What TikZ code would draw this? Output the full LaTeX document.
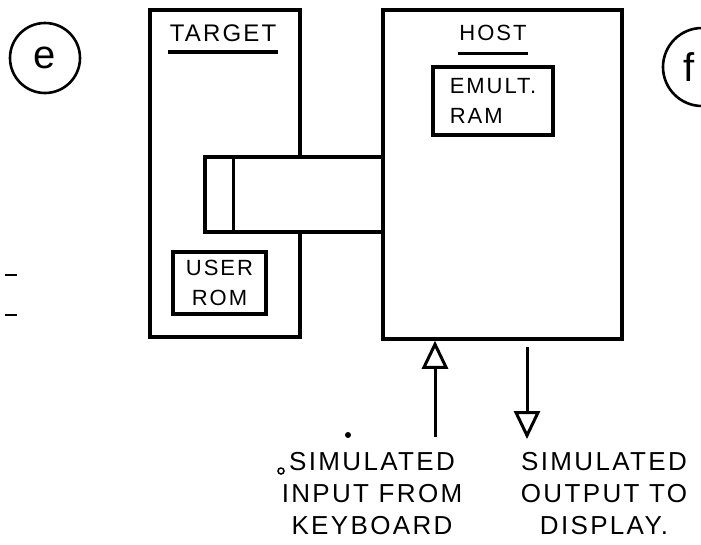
\documentclass[tikz,border=0pt]{standalone}
\usepackage{fontspec}
\setmainfont{Liberation Sans}
\newfontfamily\handfont[LetterSpace=9]{Liberation Sans}
\usetikzlibrary{arrows.meta,calc,positioning}

\begin{document}
\begin{tikzpicture}[x=1pt,y=-1pt,line width=3.5pt,
  box/.style={draw,rectangle,inner sep=0pt},
  lbl/.style={inner sep=0pt,font=\handfont\fontsize{22}{30}\selectfont},
  note/.style={inner sep=0pt,align=center,font=\handfont\fontsize{26}{32}\selectfont},
  io/.style={-{Triangle[open,length=28pt,width=26pt]},line width=3pt}]
  \useasboundingbox (0,0) rectangle (701,544);
  \clip (0,0) rectangle (701,544);
  % circled page marks
  \node[circle,draw,line width=2.6pt,minimum size=70pt,font=\fontsize{40}{40}\selectfont] (pe) at (45,58) {e};
  \node[circle,draw,line width=2.6pt,minimum size=78pt] (pf) at (702,67) {};
  \node[font=\fontsize{40}{40}\selectfont] (pflab) at (689,67) {f};
  \foreach \y in {275,315} {\draw[line width=2pt] (5,\y) -- ++(12,0);}
  % boxes
  \node[box,minimum width=150pt,minimum height=327pt] (target) at (225,173.5) {};
  \node[box,fill=white,minimum width=178pt,minimum height=75pt] (slot) at (294,194.5) {};
  \draw ([xshift=30pt,yshift=-1.75pt]slot.north west) -- ([xshift=30pt,yshift=1.75pt]slot.south west);
  \node[box,minimum width=239pt,minimum height=329pt] (host) at (502.5,174.5) {};
  \node[box,lbl,minimum width=120pt,minimum height=68pt,align=left] (emulram) at (493,101) {EMULT.\\RAM};
  \node[box,lbl,minimum width=93pt,minimum height=62pt,align=center] (userrom) at (219.5,283) {USER\\ROM};
  % headings
  \node[lbl,font=\handfont\fontsize{24}{30}\selectfont] (tlab) at (223,33) {TARGET};
  \draw ($(tlab.south west)+(0,9)$) -- ($(tlab.south east)+(0,9)$);
  \node[lbl] (hlab) at (493,33) {HOST};
  \draw ($(hlab.south west)+(0,11)$) -- ($(hlab.south east)+(0,11)$);
  % keyboard in, display out
  \node[note,anchor=north] (kbd) at (372,451) {SIMULATED\\INPUT FROM\\KEYBOARD};
  \node[note,anchor=north] (disp) at (604,451) {SIMULATED\\OUTPUT TO\\DISPLAY.};
  \coordinate (inend) at (435,437);
  \coordinate (outend) at (527,439);
  \draw[io] (inend) -- (inend |- host.south);
  \draw[io,shorten <=6pt] (outend |- host.south) -- (outend);
  \fill (348,435) circle (3);
  \draw[line width=1.5pt] (281,471) circle (3);
\end{tikzpicture}
\end{document}
